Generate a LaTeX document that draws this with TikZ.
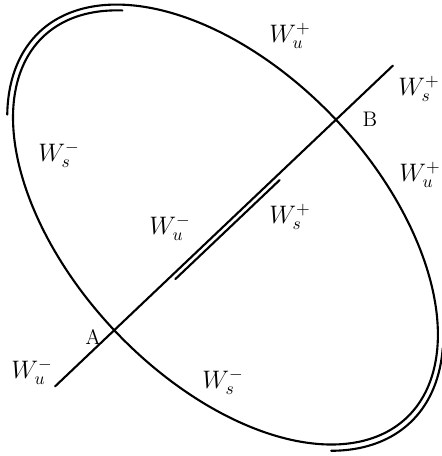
\documentclass[tikz,border=0pt]{standalone}
\usepackage{amsmath,amssymb}
\usepackage{xcolor}
\usepackage{tikz}
\usetikzlibrary{calc}
\definecolor{figline}{RGB}{0,0,0}
\tikzset{
  crv/.style ={draw=figline, line width=1.2pt, line cap=round},
  lab/.style ={font=\Large, inner sep=1pt},
  pnt/.style ={font=\large, inner sep=1pt},
}
\begin{document}
\begin{tikzpicture}[scale=0.02]
  \useasboundingbox (0,0) rectangle (441,456);
  \begin{scope}[shift={(224,230)}, rotate=-46.5]
  \draw[crv] plot[domain=150:571, samples=200, smooth, variable=\t]
    ({(261.5+(\t-150)/60)*cos(\t)}, {(149.5+(\t-150)/60)*sin(\t)});
  \draw[crv] plot[domain=-29:28, samples=40, smooth, variable=\t]
    ({271*cos(\t)}, {159*sin(\t)});
  \coordinate (A) at (0,-151.5);
  \coordinate (B) at (0,154.5);
  \coordinate (lo) at (0,-233);
  \coordinate (hi) at (0,233);
  \coordinate (d1) at (5,-72);
  \coordinate (d2) at (5,72);
  \end{scope}
  \draw[crv] (lo) -- (A) -- (B) -- (hi);
  \draw[crv] (d1) -- (d2);
  \node[lab] (wu1) at (290,420) {$W_u^+$};
  \node[lab] (ws1) at (419,367) {$W_s^+$};
  \node[pnt] (nb) at (370,337) {B};
  \node[lab] (wu2) at (420,281) {$W_u^+$};
  \node[lab] (ws2) at (290,239) {$W_s^+$};
  \node[lab] (wu3) at (170,228) {$W_u^-$};
  \node[lab] (ws3) at (59,301) {$W_s^-$};
  \node[pnt] (na) at (93,119) {A};
  \node[lab] (wu4) at (32,84) {$W_u^-$};
  \node[lab] (ws4) at (223,74) {$W_s^-$};
\end{tikzpicture}
\end{document}
